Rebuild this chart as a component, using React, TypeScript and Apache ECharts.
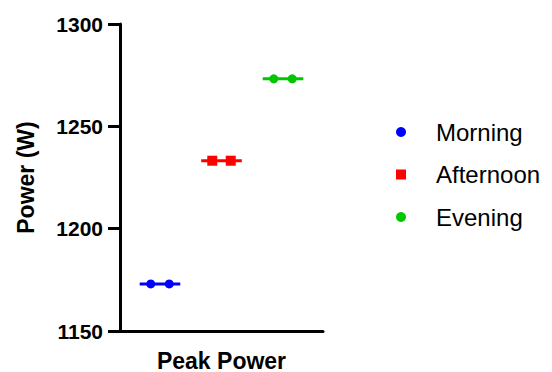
import React, { useEffect, useRef } from "react";
import * as echarts from "echarts";

const groups = ["Morning", "Afternoon", "Evening"];
const colors = ["#0000FF", "#FF0000", "#00C800"];
const symbols = ["circle", "rect", "circle"];
const symbolSizes = [9, 10, 9];
const morning = [1173, 1173];
const afternoon = [1233.2, 1233.2];
const evening = [1273.2, 1273.2];
const values = [morning, afternoon, evening];
const category = ["Peak Power"];
const yTicks = { min: 1150, max: 1300, interval: 50 };

export default function App() {
  const ref = useRef<HTMLDivElement>(null);
  useEffect(() => {
    document.body.style.margin = "0";
    const chart = echarts.init(ref.current!, null, { renderer: "svg" });
    const font = "Liberation Sans, Arial, sans-serif";
    const series: any[] = [];
    values.forEach((vals, i) => {
      const mean = vals.reduce((a, b) => a + b, 0) / vals.length;
      series.push({
        name: groups[i],
        type: "scatter",
        xAxisIndex: 1,
        symbol: symbols[i],
        symbolSize: symbolSizes[i],
        itemStyle: { color: colors[i], opacity: 1 },
        data: vals.map((v, j) => [i + (j === 0 ? -0.15 : 0.15), v]),
        z: 3,
      });
      series.push({
        name: groups[i] + " mean",
        type: "line",
        xAxisIndex: 1,
        showSymbol: false,
        symbol: "none",
        lineStyle: { color: colors[i], width: 3 },
        data: [
          [i - 0.33, mean],
          [i + 0.33, mean],
        ],
        z: 2,
      });
    });
    chart.setOption({
      animation: false,
      grid: { left: 120, top: 24, right: 229, bottom: 39 },
      legend: {
        data: groups.map((g, i) => ({ name: g, icon: symbols[i] })),
        orient: "vertical",
        left: 391,
        top: 115,
        itemGap: 18.5,
        itemWidth: 10,
        itemHeight: 10,
        textStyle: { fontSize: 24, color: "#000", fontFamily: font, padding: [0, 0, 0, 25] },
      },
      xAxis: [
        {
          type: "category",
          data: category,
          boundaryGap: true,
          axisLine: { onZero: false, lineStyle: { color: "#000", width: 3 } },
          axisTick: { alignWithLabel: true, length: 12, lineStyle: { width: 3, color: "#000" } },
          axisLabel: { color: "#000", fontSize: 23, fontWeight: "bold", fontFamily: font, margin: 18 },
        },
        {
          type: "value",
          min: -0.65,
          max: 2.65,
          show: false,
        },
      ],
      yAxis: {
        type: "value",
        min: yTicks.min,
        max: yTicks.max,
        interval: yTicks.interval,
        name: "Power (W)",
        nameLocation: "middle",
        nameGap: 83,
        nameTextStyle: { color: "#000", fontSize: 23, fontWeight: "bold", fontFamily: font },
        splitLine: { show: false },
        axisLine: { show: true, onZero: false, lineStyle: { color: "#000", width: 3 } },
        axisTick: { show: true, length: 12, lineStyle: { width: 3, color: "#000" } },
        axisLabel: {
          color: "#000",
          fontSize: 21,
          fontWeight: "bold",
          fontFamily: font,
          margin: 17,
          formatter: (v: number) => String(v),
        },
      },
      series,
    });
    return () => chart.dispose();
  }, []);
  return <div ref={ref} style={{ width: 552, height: 372 }} />;
}
